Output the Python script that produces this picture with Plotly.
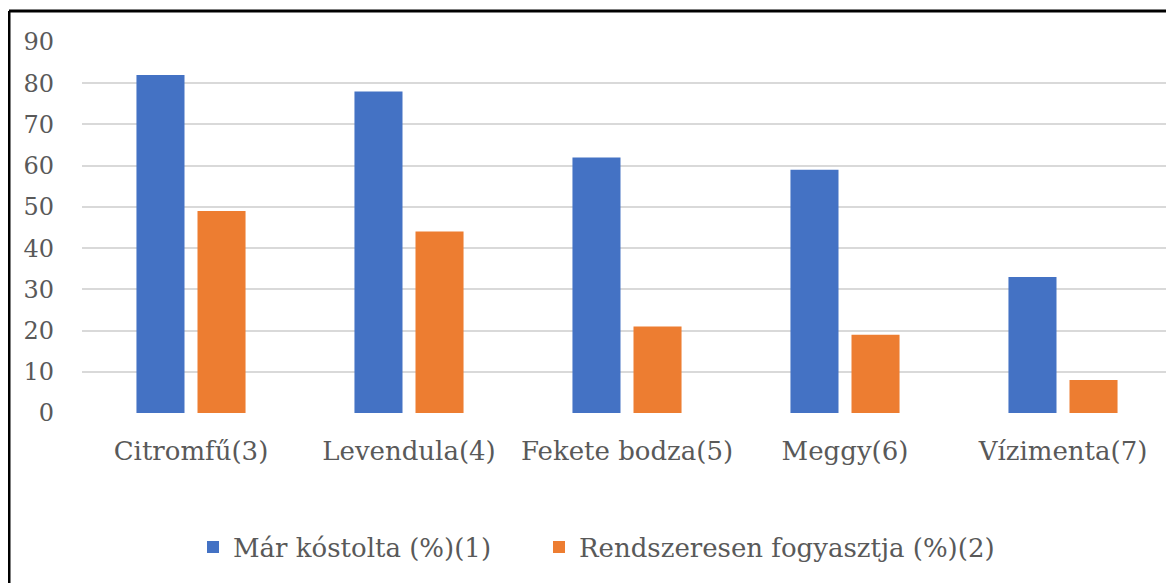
import plotly.graph_objects as go

categories = ["Citromfű(3)", "Levendula(4)", "Fekete bodza(5)", "Meggy(6)", "Vízimenta(7)"]
series1_name = "Már kóstolta (%)(1)"
series1 = [82, 78, 62, 59, 33]
series2_name = "Rendszeresen fogyasztja (%)(2)"
series2 = [49, 44, 21, 19, 8]
y_ticks = [0, 10, 20, 30, 40, 50, 60, 70, 80, 90]

OFF = 8  # page body margin
W, H = 1174 - OFF, 583 - OFF
L, R, T, B = 82 - OFF, 2, 42 - OFF, 170
pw, ph = W - L - R, H - T - B

font_family = "DejaVu Serif"
gray = "#595959"

fig = go.Figure()
fig.add_trace(go.Bar(x=categories, y=series1, name=series1_name, legend="legend",
                     marker=dict(color="#4472C4", line=dict(width=0))))
fig.add_trace(go.Bar(x=categories, y=series2, name=series2_name, legend="legend2",
                     marker=dict(color="#ED7D31", line=dict(width=0))))

# outer frame (left and top lines), screen coords x=9, y=11
fx = (9 - OFF - L) / pw
fy = 1 + (T - (11 - OFF)) / ph
fig.add_shape(type="line", xref="paper", yref="paper", x0=fx, x1=fx, y0=fy, y1=-2,
              line=dict(color="black", width=3))
fig.add_shape(type="line", xref="paper", yref="paper", x0=fx, x1=1.5, y0=fy, y1=fy,
              line=dict(color="black", width=3))

leg_y = (T + ph - (547 - OFF)) / ph
leg_common = dict(orientation="h", xanchor="left", yanchor="middle", y=leg_y,
                  font=dict(family=font_family, size=26, color=gray),
                  bgcolor="rgba(0,0,0,0)")

fig.update_layout(
    width=W, height=H,
    margin=dict(l=L, r=R, t=T, b=B, pad=0),
    paper_bgcolor="white", plot_bgcolor="white",
    barmode="group", bargap=0.44, bargroupgap=0.213,
    font=dict(family=font_family, size=26, color=gray),
    showlegend=True,
    legend=dict(x=(193 - OFF - L) / pw, **leg_common),
    legend2=dict(x=(539 - OFF - L) / pw, **leg_common),
)
fig.update_xaxes(showgrid=False, showline=False, zeroline=False,
                 ticks="", tickfont=dict(family=font_family, size=26, color=gray),
                 ticklabelstandoff=20)
fig.update_yaxes(range=[0, 90], tickvals=y_ticks, showgrid=True, gridcolor="#d9d9d9",
                 gridwidth=2, zeroline=False, showline=False, ticks="",
                 tickfont=dict(family=font_family, size=24, color=gray),
                 ticklabelstandoff=27)

fig.write_html("out.html")
